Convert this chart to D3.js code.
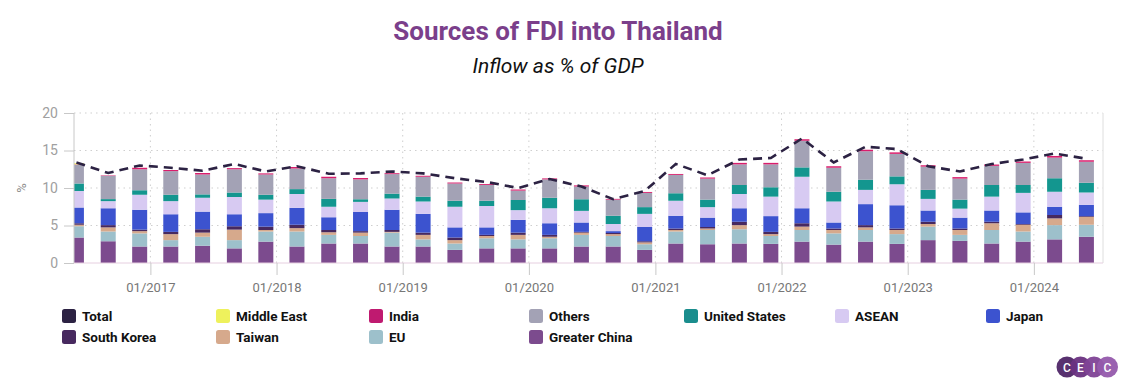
<!DOCTYPE html>
<html>
<head>
<meta charset="utf-8">
<script src="https://cdn.jsdelivr.net/npm/d3@7"></script>
<style>
  body { margin: 0; background: #fff; }
  svg { display: block; font-family: Roboto, "Noto Sans", sans-serif; }
</style>
</head>
<body>
<div id="chart"></div>
<script>
// quarterly observations (end-of-quarter month)
const categories = [
  "2016-06", "2016-09", "2016-12", "2017-03", "2017-06", "2017-09", "2017-12",
  "2018-03", "2018-06", "2018-09", "2018-12", "2019-03", "2019-06", "2019-09",
  "2019-12", "2020-03", "2020-06", "2020-09", "2020-12", "2021-03", "2021-06",
  "2021-09", "2021-12", "2022-03", "2022-06", "2022-09", "2022-12", "2023-03",
  "2023-06", "2023-09", "2023-12", "2024-03", "2024-06"
];

const greaterChina = [3.4, 2.9, 2.2, 2.2, 2.3, 1.95, 2.85, 2.2, 2.6, 2.6, 2.2, 2.2, 1.75, 1.95, 1.95, 1.95, 2.2, 2.2, 1.75, 2.6, 2.5, 2.6, 2.55, 2.85, 2.45, 2.85, 2.55, 3.05, 2.95, 2.6, 2.85, 3.15, 3.5];
const eu = [1.5, 1.3, 1.75, 0.85, 1.2, 1.1, 1.35, 2.0, 1.15, 1.0, 1.85, 0.95, 0.85, 1.35, 1.2, 1.35, 1.55, 1.4, 0.75, 1.6, 1.9, 1.9, 1.05, 1.55, 1.5, 1.55, 1.3, 1.8, 0.8, 1.8, 1.35, 1.9, 1.6];
const taiwan = [0.2, 0.55, 0.3, 0.8, 0.55, 1.4, 0.2, 0.45, 0.35, 0.45, 0.1, 0.6, 0.45, 0.3, 0.6, 0.2, 0.3, 0.25, 0.25, 0.2, 0.2, 0.55, 0.25, 0.45, 0.45, 0.35, 0.55, 0.35, 0.65, 0.9, 0.9, 0.9, 1.05];
const southKorea = [0.2, 0.3, 0.2, 0.3, 0.45, 0.45, 0.45, 0.45, 0.3, 0.2, 0.25, 0.3, 0.35, 0.15, 0.3, 0.25, 0.1, 0.15, 0.15, 0.2, 0.2, 0.45, 0.3, 0.45, 0.2, 0.3, 0.2, 0.3, 0.2, 0.2, 0.1, 0.45, 0.1];
const japan = [2.1, 2.25, 2.65, 2.35, 2.35, 1.6, 1.8, 2.25, 1.7, 2.55, 2.7, 2.5, 1.35, 1.0, 1.7, 1.55, 1.25, 0.25, 1.9, 1.7, 1.25, 1.8, 2.1, 2.0, 0.8, 2.8, 3.1, 1.5, 1.45, 1.5, 1.55, 1.1, 1.5];
const asean = [2.2, 0.95, 2.0, 1.75, 1.85, 2.3, 1.8, 1.85, 1.4, 1.35, 1.5, 1.65, 2.75, 2.85, 1.3, 2.0, 1.55, 0.95, 1.75, 2.0, 1.4, 1.9, 2.6, 4.2, 2.8, 1.9, 2.8, 1.55, 1.2, 1.85, 2.6, 2.0, 1.65];
const unitedStates = [1.0, 0.27, 0.6, 0.85, 0.45, 0.6, 0.65, 0.65, 1.05, 0.35, 0.65, 0.65, 0.8, 0.7, 1.35, 1.4, 1.55, 1.1, 0.9, 1.0, 1.0, 1.2, 1.25, 1.25, 1.3, 1.35, 1.05, 1.2, 1.2, 1.55, 1.05, 1.8, 1.3];
const others = [2.5, 3.1, 2.8, 3.15, 2.65, 3.1, 2.7, 2.75, 2.75, 2.65, 2.6, 2.65, 2.3, 2.1, 1.25, 2.45, 1.7, 2.15, 1.9, 2.45, 2.8, 2.75, 3.05, 3.55, 3.2, 3.8, 3.0, 3.1, 2.8, 2.55, 2.95, 2.75, 2.8];
const india = [0.05, 0.06, 0.2, 0.15, 0.2, 0.15, 0.15, 0.2, 0.2, 0.18, 0.12, 0.13, 0.13, 0.12, 0.15, 0.13, 0.15, 0.1, 0.12, 0.12, 0.15, 0.2, 0.2, 0.2, 0.2, 0.2, 0.2, 0.18, 0.2, 0.18, 0.18, 0.22, 0.2];
const middleEast = [0.15, 0, 0, 0, 0, 0, 0, 0, 0, 0, 0, 0, 0, 0, 0, 0, 0, 0, 0, 0, 0, 0, 0, 0, 0, 0, 0, 0, 0, 0, 0, 0, 0];
const total = [13.4, 12.0, 13.0, 12.7, 12.3, 13.2, 12.2, 12.9, 11.9, 11.95, 12.2, 11.95, 11.3, 10.8, 10.0, 11.2, 10.2, 8.5, 9.6, 13.2, 11.7, 13.8, 14.0, 16.6, 13.4, 15.5, 15.2, 12.9, 12.2, 13.2, 13.8, 14.6, 13.9];

const yTicks = [0, 5, 10, 15, 20];
const xTickYears = [2017, 2018, 2019, 2020, 2021, 2022, 2023, 2024];

// legend order (row by row); bars stack in the reverse order
const legendItems = [
  { key: "Total", color: "#2c2243" },
  { key: "Middle East", color: "#eef15c" },
  { key: "India", color: "#bf1a70" },
  { key: "Others", color: "#a3a2b5" },
  { key: "United States", color: "#1a8d8d" },
  { key: "ASEAN", color: "#d7caf2" },
  { key: "Japan", color: "#3c53cf" },
  { key: "South Korea", color: "#47295f" },
  { key: "Taiwan", color: "#d6a98c" },
  { key: "EU", color: "#9dc0cb" },
  { key: "Greater China", color: "#7c4b8e" }
];

const seriesData = {
  "Greater China": greaterChina, "EU": eu, "Taiwan": taiwan, "South Korea": southKorea,
  "Japan": japan, "ASEAN": asean, "United States": unitedStates, "Others": others,
  "India": india, "Middle East": middleEast
};
const stackKeys = ["Greater China", "EU", "Taiwan", "South Korea", "Japan", "ASEAN",
  "United States", "Others", "India", "Middle East"];
const colorOf = Object.fromEntries(legendItems.map(d => [d.key, d.color]));
const barColor = Object.assign({}, colorOf, { "United States": "#13968f", "India": "#d91d6c" });

const parse = d3.timeParse("%Y-%m");
const rows = categories.map((c, i) => {
  const r = { date: parse(c), total: total[i] };
  stackKeys.forEach(k => r[k] = seriesData[k][i]);
  return r;
});

const W = 1137, H = 389;
const plot = { left: 74, right: 1103, top: 113, bottom: 263 };

const svg = d3.select("#chart").append("svg").attr("width", W).attr("height", H);

// Título
svg.append("text").attr("x", 558).attr("y", 40).attr("text-anchor", "middle")
  .attr("font-size", 26).attr("font-weight", 700).attr("fill", "#7b3f8b")
  .text("Sources of FDI into Thailand");
svg.append("text").attr("x", 558).attr("y", 73).attr("text-anchor", "middle")
  .attr("font-size", 21).attr("font-style", "italic").attr("fill", "#111")
  .text("Inflow as % of GDP");

const first = rows[0].date, last = rows[rows.length - 1].date;
const x = d3.scaleTime()
  .domain([d3.timeDay.offset(first, -7), d3.timeDay.offset(last, 48)])
  .range([plot.left, plot.right]);
const y = d3.scaleLinear().domain([0, 20]).range([plot.bottom, plot.top]);

// grid
const yearDates = xTickYears.map(yr => new Date(yr, 0, 1));
svg.append("g").selectAll("line").data(yTicks.filter(t => t > 0)).join("line")
  .attr("x1", plot.left).attr("x2", plot.right)
  .attr("y1", d => y(d)).attr("y2", d => y(d))
  .attr("stroke", "#cfcfcf").attr("stroke-dasharray", "1.5,4");
svg.append("g").selectAll("line").data(yearDates).join("line")
  .attr("x1", d => x(d)).attr("x2", d => x(d))
  .attr("y1", plot.top).attr("y2", plot.bottom)
  .attr("stroke", "#cfcfcf").attr("stroke-dasharray", "1.5,4");

// bars
svg.append("defs").append("clipPath").attr("id", "clip").append("rect")
  .attr("x", plot.left).attr("y", 0).attr("width", plot.right - plot.left).attr("height", plot.bottom);

const stacked = d3.stack().keys(stackKeys)(rows);
const bw = 15;
const bars = svg.append("g").attr("clip-path", "url(#clip)");
stacked.forEach(layer => {
  bars.append("g").attr("fill", barColor[layer.key])
    .selectAll("rect").data(layer).join("rect")
    .attr("x", d => x(d.data.date) - bw / 2)
    .attr("width", bw)
    .attr("y", d => y(d[1]))
    .attr("height", d => Math.max(0, y(d[0]) - y(d[1])));
});

// axes
svg.append("line").attr("x1", plot.left).attr("x2", plot.left)
  .attr("y1", plot.top).attr("y2", plot.bottom).attr("stroke", "#c8c8c8");
svg.append("line").attr("x1", plot.right).attr("x2", plot.right)
  .attr("y1", plot.top).attr("y2", plot.bottom).attr("stroke", "#dedede");
svg.append("line").attr("x1", plot.left).attr("x2", plot.right)
  .attr("y1", plot.bottom).attr("y2", plot.bottom).attr("stroke", "#e6cfe0");

const yAxis = svg.append("g").attr("transform", `translate(${plot.left},0)`)
  .call(d3.axisLeft(y).tickValues(yTicks).tickSize(10).tickPadding(6));
yAxis.select(".domain").remove();
yAxis.selectAll("line").attr("stroke", "#c8c8c8");
yAxis.selectAll("text").attr("fill", "#a0a0a0").attr("font-size", 14).attr("font-family", "Roboto");

const xAxis = svg.append("g").attr("transform", `translate(0,${plot.bottom})`)
  .call(d3.axisBottom(x).tickValues(yearDates).tickFormat(d3.timeFormat("%m/%Y")).tickSize(12).tickPadding(8));
xAxis.select(".domain").remove();
xAxis.selectAll("line").attr("stroke", "#c8c8c8");
xAxis.selectAll("text").attr("fill", "#777").attr("font-size", 13).attr("font-family", "Roboto");

svg.append("text").attr("transform", "translate(26,188) rotate(-90)")
  .attr("text-anchor", "middle").attr("font-size", 13).attr("fill", "#888").text("%");

// total line
svg.append("path").datum(rows)
  .attr("fill", "none").attr("stroke", colorOf["Total"]).attr("stroke-width", 2.6)
  .attr("stroke-dasharray", "9,6")
  .attr("d", d3.line().x(d => x(d.date)).y(d => y(d.total)));

// legend
const legendCols = [62, 216, 369, 529, 684, 835, 986];
const legend = svg.append("g");
legendItems.forEach((d, i) => {
  const col = i % 7, row = Math.floor(i / 7);
  const g = legend.append("g").attr("transform", `translate(${legendCols[col]},${309 + row * 21})`);
  g.append("rect").attr("width", 14).attr("height", 14).attr("rx", 2.5).attr("fill", d.color);
  g.append("text").attr("x", 20).attr("y", 12).attr("font-size", 13.5).attr("font-weight", 700)
    .attr("fill", "#111").text(d.key);
});

// logo
const logo = svg.append("g").attr("transform", "translate(1067,367)");
const logoColors = ["#4f2667", "#6a3281", "#7f4396", "#955aac"];
"CEIC".split("").forEach((ch, i) => {
  logo.append("circle").attr("cx", i * 13.5).attr("r", 10.5).attr("fill", logoColors[i]).attr("opacity", 0.95);
});
"CEIC".split("").forEach((ch, i) => {
  logo.append("text").attr("x", i * 13.5).attr("y", 4.5).attr("text-anchor", "middle")
    .attr("font-size", 12).attr("font-weight", 500).attr("fill", "#fff").text(ch);
});
</script>
</body>
</html>
